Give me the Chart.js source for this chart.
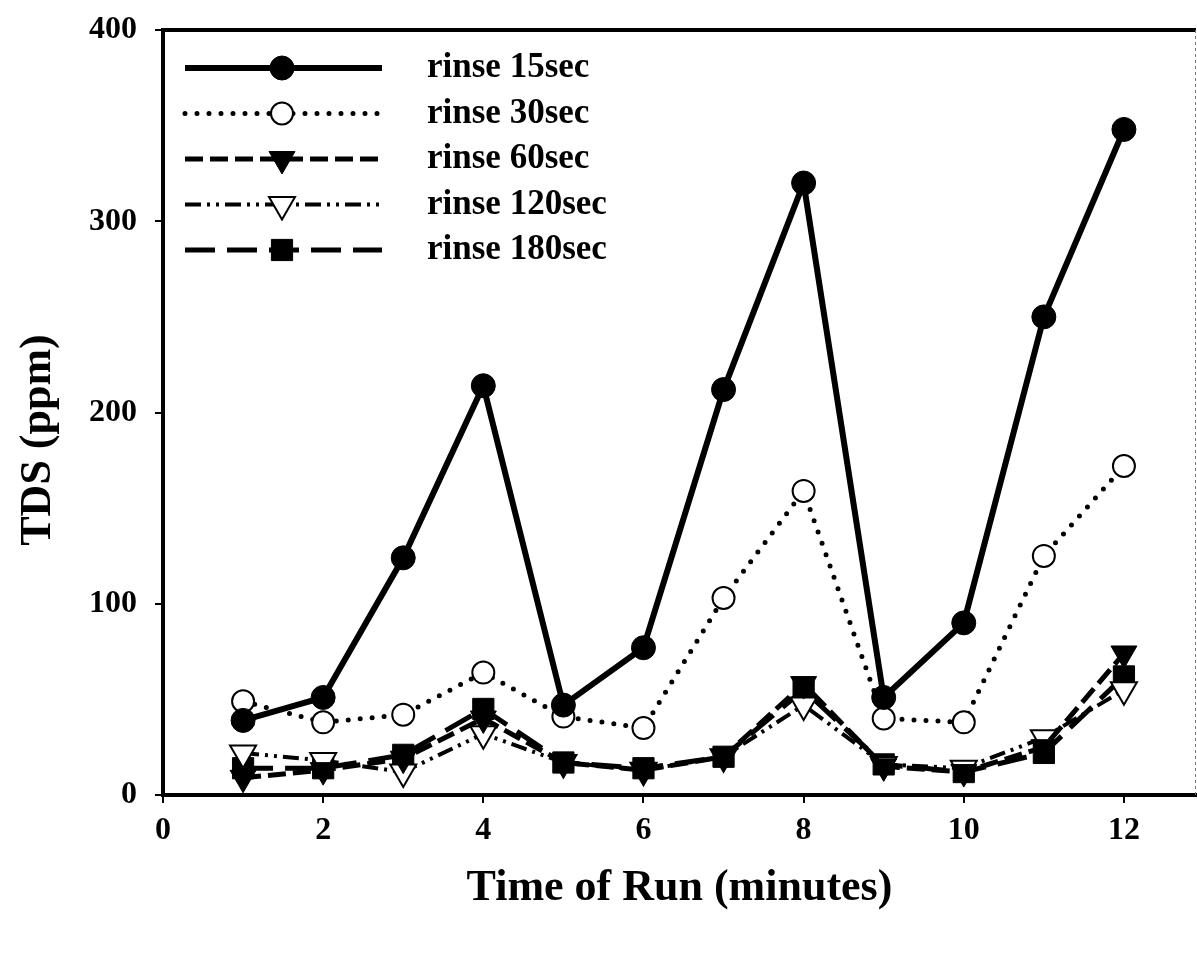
<!DOCTYPE html>
<html>
<head>
<meta charset="utf-8">
<title>TDS vs Time of Run</title>
<script src="https://cdn.jsdelivr.net/npm/chart.js@4.4.1/dist/chart.umd.min.js"></script>
<style>
  html, body { margin: 0; padding: 0; background: #fff; overflow: hidden; }
  #chart { display: block; }
</style>
</head>
<body>
<canvas id="chart" width="1197" height="953"></canvas>
<script>
const times = [1, 2, 3, 4, 5, 6, 7, 8, 9, 10, 11, 12];
const rinse15 = [39, 51, 124, 214, 47, 77, 212, 320, 51, 90, 250, 348];
const rinse30 = [49, 38, 42, 64, 41, 35, 103, 159, 40, 38, 125, 172];
const rinse60 = [9, 13, 19, 40, 17, 13, 20, 58, 15, 12, 25, 74];
const rinse120 = [22, 18, 12, 32, 17, 13, 20, 47, 16, 14, 30, 55];
const rinse180 = [14, 14, 21, 45, 17, 14, 20, 55, 16, 12, 22, 62];
const seriesLabels = ['rinse 15sec', 'rinse 30sec', 'rinse 60sec', 'rinse 120sec', 'rinse 180sec'];
const xTicks = [0, 2, 4, 6, 8, 10, 12];
const yTicks = [0, 100, 200, 300, 400];

const FONT = '"Liberation Serif", "Times New Roman", serif';

// line + marker look of each series, same order as seriesLabels
const styles = [
    { dash: [], cap: 'butt', width: 6, point: 'circle', rot: 0, r: 12, fill: '#000', bw: 1 },
    { dash: [0, 12], cap: 'round', width: 5, point: 'circle', rot: 0, r: 11, fill: '#fff', bw: 2 },
    { dash: [18, 7], cap: 'butt', width: 5, point: 'triangle', rot: 180, r: 15, fill: '#000', bw: 1 },
    { dash: [16, 6, 3, 6, 3, 6], cap: 'butt', width: 4, point: 'triangle', rot: 180, r: 15, fill: '#fff', bw: 2 },
    { dash: [30, 12], cap: 'butt', width: 5, point: 'rect', rot: 0, r: 15, fill: '#000', bw: 1 }
];

function toPoints(values) {
    return times.map((t, i) => ({ x: t, y: values[i] }));
}

function makeDataset(label, values, s) {
    return {
        label: label,
        data: toPoints(values),
        borderColor: '#000',
        borderWidth: s.width,
        borderDash: s.dash,
        borderCapStyle: s.cap,
        tension: 0,
        fill: false,
        pointStyle: s.point,
        pointRotation: s.rot,
        pointRadius: s.r,
        pointBackgroundColor: s.fill,
        pointBorderColor: '#000',
        pointBorderWidth: s.bw
    };
}

const allValues = [rinse15, rinse30, rinse60, rinse120, rinse180];
const datasets = allValues.map((v, i) => makeDataset(seriesLabels[i], v, styles[i]));

// legend sits inside the plot, line with the marker in its middle
const insideLegend = {
    id: 'insideLegend',
    afterDatasetsDraw(chart) {
        const ctx = chart.ctx;
        const area = chart.chartArea;
        const x0 = area.left + 22;
        const x1 = area.left + 219;
        const xm = area.left + 119;
        chart.data.datasets.forEach((ds, i) => {
            const y = area.top + 38 + i * 45.5;
            ctx.save();
            ctx.strokeStyle = '#000';
            ctx.lineWidth = ds.borderWidth;
            ctx.lineCap = ds.borderCapStyle;
            ctx.setLineDash(ds.borderDash);
            ctx.beginPath();
            ctx.moveTo(x0, y);
            ctx.lineTo(x1, y);
            ctx.stroke();
            ctx.setLineDash([]);
            ctx.fillStyle = ds.pointBackgroundColor;
            ctx.strokeStyle = '#000';
            ctx.lineWidth = ds.pointBorderWidth;
            Chart.helpers.drawPoint(ctx, {
                pointStyle: ds.pointStyle,
                rotation: ds.pointRotation,
                radius: ds.pointRadius,
                borderWidth: ds.pointBorderWidth
            }, xm, y);
            ctx.fillStyle = '#000';
            ctx.font = 'bold 35px ' + FONT;
            ctx.textBaseline = 'middle';
            ctx.textAlign = 'left';
            ctx.fillText(ds.label, area.left + 264, y);
            ctx.restore();
        });
    }
};

// heavy top edge and thin right edge of the frame
const frame = {
    id: 'frame',
    afterDraw(chart) {
        const ctx = chart.ctx;
        const a = chart.chartArea;
        ctx.save();
        ctx.strokeStyle = '#000';
        ctx.lineWidth = 4;
        ctx.beginPath();
        ctx.moveTo(a.left, a.top);
        ctx.lineTo(a.right, a.top);
        ctx.stroke();
        ctx.lineWidth = 1;
        ctx.strokeStyle = '#777';
        ctx.setLineDash([3, 3]);
        ctx.beginPath();
        ctx.moveTo(a.right - 0.5, a.top);
        ctx.lineTo(a.right - 0.5, a.bottom);
        ctx.stroke();
        ctx.restore();
    }
};

function setTicks(list) {
    return function (axis) {
        axis.ticks = list.map(v => ({ value: v }));
    };
}

const ctx = document.getElementById('chart').getContext('2d');
new Chart(ctx, {
    type: 'line',
    data: { datasets: datasets },
    plugins: [insideLegend, frame],
    options: {
        responsive: false,
        animation: false,
        layout: {
            autoPadding: false,
            padding: { top: 30, right: 1, left: 0, bottom: 0 }
        },
        plugins: {
            legend: { display: false },
            tooltip: { enabled: false }
        },
        scales: {
            x: {
                type: 'linear',
                min: 0,
                max: 12.9,
                afterBuildTicks: setTicks(xTicks),
                afterFit: axis => {
                    axis.height = 158;
                    axis.paddingLeft = 0;
                    axis.paddingRight = 0;
                },
                ticks: {
                    color: '#000',
                    padding: 9,
                    font: { family: FONT, size: 32, weight: 'bold' }
                },
                grid: { drawOnChartArea: false, tickLength: 8, color: '#000', lineWidth: 2 },
                border: { color: '#000', width: 4 },
                title: {
                    display: true,
                    text: 'Time of Run (minutes)',
                    color: '#000',
                    padding: { top: 0, bottom: 38 },
                    font: { family: FONT, size: 44, weight: 'bold' }
                }
            },
            y: {
                min: 0,
                max: 400,
                afterBuildTicks: setTicks(yTicks),
                afterFit: axis => {
                    axis.width = 163;
                    axis.paddingTop = 0;
                    axis.paddingBottom = 0;
                },
                ticks: {
                    color: '#000',
                    padding: 18,
                    font: { family: FONT, size: 32, weight: 'bold' }
                },
                grid: { drawOnChartArea: false, tickLength: 8, color: '#000', lineWidth: 2 },
                border: { color: '#000', width: 4 },
                title: {
                    display: true,
                    text: 'TDS (ppm)     ',
                    color: '#000',
                    padding: { top: 12, bottom: 0 },
                    font: { family: FONT, size: 44, weight: 'bold' }
                }
            }
        }
    }
});
</script>
</body>
</html>
